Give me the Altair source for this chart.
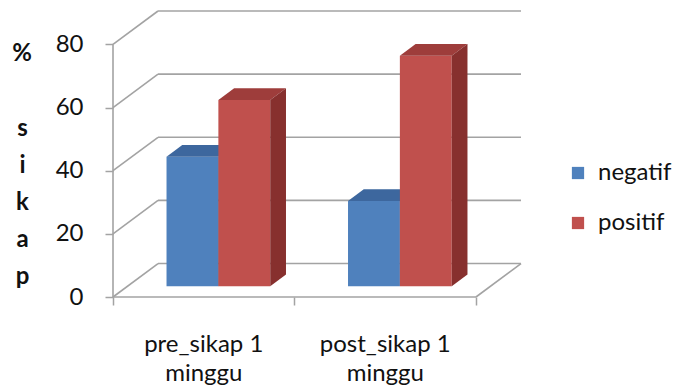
import altair as alt
import pandas as pd

# ---- data ---------------------------------------------------------------
CATEGORIES = ["pre_sikap 1\nminggu", "post_sikap 1\nminggu"]
SERIES = ["negatif", "positif"]
NEGATIF = [41, 27]
POSITIF = [59, 73]
Y_TICKS = [0, 20, 40, 60, 80]
Y_UNIT = "%"
Y_TITLE = ["s", "i", "k", "a", "p"]

# ---- 3-D look (oblique projection) -------------------------------------
DEPTH_X = 0.248          # floor depth, in category widths
DEPTH_Y = 10.6           # floor depth, in value units
GAP = 1.5                # gap width between groups (x bar width)
BAR_FRONT, BAR_BACK = 0.325, 0.675   # bar depth as fraction of floor depth

FRONT = {"negatif": "#4F81BD", "positif": "#C0504D"}
TOP = {"negatif": "#3D679E", "positif": "#9E3D3B"}
SIDE = {"negatif": "#355B8C", "positif": "#87302E"}
GRID = "#A3A3A3"
FONT = "Lato"
INK = "#111111"

n = len(CATEGORIES)
X_MAX = n + DEPTH_X
Y_MAX = Y_TICKS[-1] + DEPTH_Y

xs = alt.Scale(domain=[0, X_MAX], nice=False, zero=False)
ys = alt.Scale(domain=[0, Y_MAX], nice=False, zero=False)

# ---- geometry of each bar ----------------------------------------------
bw = 1.0 / (len(SERIES) + GAP)
fx, fy = BAR_FRONT * DEPTH_X, BAR_FRONT * DEPTH_Y
bx, by = BAR_BACK * DEPTH_X, BAR_BACK * DEPTH_Y

front_rows, face_rows = [], []
for i, cat in enumerate(CATEGORIES):
    for j, (s, vals) in enumerate(zip(SERIES, [NEGATIF, POSITIF])):
        v = vals[i]
        x0 = i + (1 - len(SERIES) * bw) / 2 + j * bw
        x1 = x0 + bw
        front_rows.append(dict(series=s, value=v,
                               x=x0 + fx, x2=x1 + fx, y=fy, y2=v + fy))
        # top face (parallelogram) and right side face, as closed outlines
        top = [(x0 + fx, v + fy), (x1 + fx, v + fy), (x1 + bx, v + by), (x0 + bx, v + by)]
        side = [(x1 + fx, fy), (x1 + bx, by), (x1 + bx, v + by), (x1 + fx, v + fy)]
        for face, pts, shade in [("top", top, TOP[s]), ("side", side, SIDE[s])]:
            for k, (px, py) in enumerate(pts):
                face_rows.append(dict(series=s, face=f"{i}-{s}-{face}",
                                      shade=shade, k=k, px=px, py=py))

front_df = pd.DataFrame(front_rows)
face_df = pd.DataFrame(face_rows)

# ---- walls, floor and gridlines ----------------------------------------
seg = []
for t in Y_TICKS:
    seg.append(dict(x=DEPTH_X, y=t + DEPTH_Y, x2=n + DEPTH_X, y2=t + DEPTH_Y))  # back wall
    seg.append(dict(x=0, y=t, x2=DEPTH_X, y2=t + DEPTH_Y))                      # side wall
seg.append(dict(x=0, y=0, x2=0, y2=Y_TICKS[-1]))                                # value axis
seg.append(dict(x=0, y=0, x2=n, y2=0))                                          # floor front
seg.append(dict(x=n, y=0, x2=n + DEPTH_X, y2=DEPTH_Y))                          # floor right
seg_df = pd.DataFrame(seg)

y_axis = alt.Axis(
    values=Y_TICKS, domain=False, grid=False, tickSize=8, tickColor=GRID,
    tickWidth=1.5, labelFont=FONT, labelFontSize=24, labelColor=INK,
    labelPadding=22, title=Y_TITLE, titleAngle=0, titleAlign="center",
    titleBaseline="alphabetic", titleX=-91, titleY=124, titleLineHeight=37,
    titleFont=FONT, titleFontSize=24, titleFontWeight="bold", titleColor=INK,
)
x_axis = alt.Axis(
    values=list(range(n + 1)), domain=False, grid=False, labels=False,
    tickSize=8, tickColor=GRID, tickWidth=1.5, title=None,
)


def X(field):
    return alt.X(field, scale=xs, axis=x_axis)


def Y(field):
    return alt.Y(field, scale=ys, axis=y_axis, stack=None)


grid = alt.Chart(seg_df).mark_rule(color=GRID, strokeWidth=1.6).encode(
    x=X("x:Q"), y=Y("y:Q"), x2="x2:Q", y2="y2:Q",
)

layers = [grid]
for s in SERIES:
    layers.append(
        alt.Chart(front_df).transform_filter(alt.datum.series == s).mark_rect().encode(
            x=X("x:Q"), x2="x2:Q", y=Y("y:Q"), y2="y2:Q",
            color=alt.Color(
                "series:N",
                scale=alt.Scale(domain=SERIES, range=[FRONT[k] for k in SERIES]),
                legend=alt.Legend(
                    title=None, orient="none", legendX=453, legendY=150,
                    symbolType="square", symbolSize=150, symbolStrokeWidth=0,
                    symbolOpacity=1, labelFont=FONT, labelFontSize=24,
                    labelColor=INK, labelOffset=8, rowPadding=26,
                    padding=0,
                ),
            ),
        )
    )
    layers.append(
        alt.Chart(face_df).transform_filter(alt.datum.series == s).mark_line(
            filled=True, strokeWidth=0, interpolate="linear-closed"
        ).encode(
            x=X("px:Q"), y=Y("py:Q"),
            detail="face:N",
            order="k:Q",
            fill=alt.Fill("shade:N", scale=None),
        )
    )

cat_df = pd.DataFrame({"label": CATEGORIES, "center": [i + 0.5 for i in range(n)]})
labels = alt.Chart(cat_df).mark_text(
    font=FONT, fontSize=24, color=INK, lineBreak="\n", lineHeight=29,
    baseline="alphabetic", align="center",
).encode(
    x=X("center:Q"),
    y=alt.value(341),
    text="label:N",
)
layers.append(labels)

# unit sign above the stacked axis title
unit = alt.Chart(pd.DataFrame({"t": [Y_UNIT]})).mark_text(
    font=FONT, fontSize=24, fontWeight="bold", color=INK,
    baseline="alphabetic", align="center",
).encode(x=alt.value(-91), y=alt.value(50), text="t:N")
layers.append(unit)

chart = alt.layer(*layers).properties(
    width=408, height=286,
    autosize=alt.AutoSizeParams(type="none"),
    padding={"left": 113, "top": 11, "right": 152, "bottom": 92},
    background="white",
).configure_view(stroke=None)

chart.save("out.html", embed_options={"renderer": "svg", "actions": False})
